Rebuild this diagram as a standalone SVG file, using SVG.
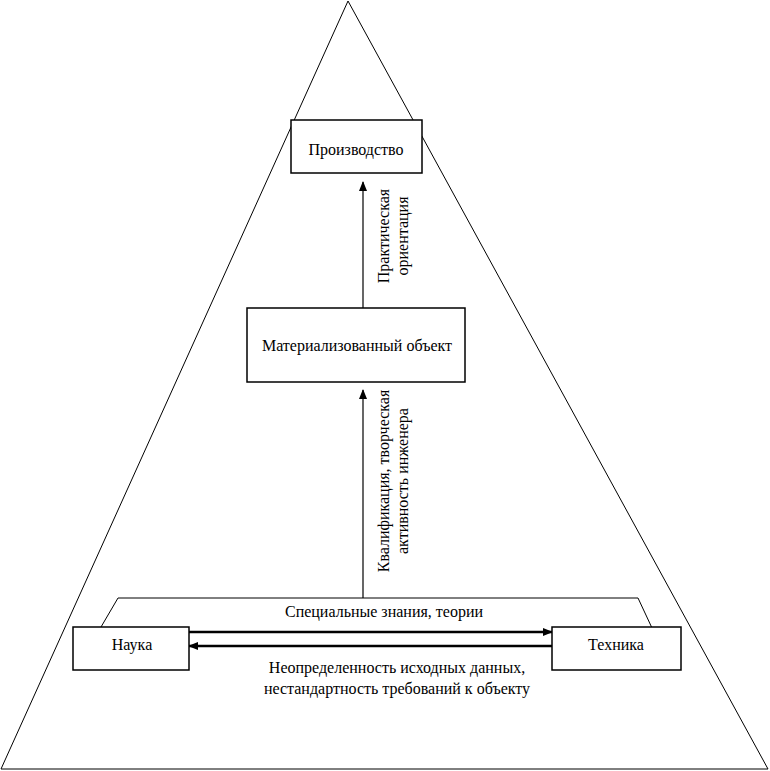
<svg xmlns="http://www.w3.org/2000/svg" width="770" height="771" viewBox="0 0 770 771">
<style>
.box{fill:#fff;stroke:#000;stroke-width:1.5}
.t{font-family:"Liberation Serif","Times New Roman",serif;font-size:16px;fill:#000}
.ln{fill:none;stroke:#000;stroke-width:1}
.ar{fill:none;stroke:#000;stroke-width:2.5}
</style>
<defs>
<marker id="ah" markerWidth="10" markerHeight="8" refX="9" refY="4" orient="auto" markerUnits="userSpaceOnUse">
<path d="M0,0 L10,4 L0,8 Z" fill="#000"/>
</marker>
</defs>
<rect width="770" height="771" fill="#fff"/>
<g id="triangle"><path class="ln" d="M348,1 L1,769 L768,769 Z"/></g>
<g id="connectors">
<line x1="363" y1="308" x2="363" y2="182" stroke="#000" stroke-width="1.2" marker-end="url(#ah)"/>
<line x1="363" y1="598" x2="363" y2="390" stroke="#000" stroke-width="1.2" marker-end="url(#ah)"/>
<path class="ln" d="M101,627 L118,598 L638,598 L652,628"/>
<line x1="189" y1="632" x2="552" y2="632" class="ar" marker-end="url(#ah)"/>
<line x1="552" y1="646" x2="189" y2="646" class="ar" marker-end="url(#ah)"/>
</g>
<g id="node-proizvodstvo">
<rect class="box" x="291" y="120" width="131" height="53"/>
<text class="t" x="356" y="155" text-anchor="middle">Производство</text>
</g>
<g id="node-material">
<rect class="box" x="247" y="308" width="218" height="74"/>
<text class="t" x="357" y="351" text-anchor="middle">Материализованный объект</text>
</g>
<g id="node-nauka">
<rect class="box" x="73" y="627" width="116" height="43"/>
<text class="t" x="132" y="650" text-anchor="middle">Наука</text>
</g>
<g id="node-tehnika">
<rect class="box" x="552" y="627" width="129" height="43"/>
<text class="t" x="616" y="650" text-anchor="middle">Техника</text>
</g>
<g id="labels">
<text class="t" x="384" y="617" text-anchor="middle">Специальные знания, теории</text>
<text class="t" x="397" y="673" text-anchor="middle">Неопределенность исходных данных,</text>
<text class="t" x="397" y="694" text-anchor="middle">нестандартность требований к объекту</text>
<g transform="translate(389,236) rotate(-90)">
<text class="t" x="0" y="0" text-anchor="middle">Практическая</text>
<text class="t" x="0" y="19" text-anchor="middle">ориентация</text>
</g>
<g transform="translate(389,481) rotate(-90)">
<text class="t" x="0" y="0" text-anchor="middle">Квалификация, творческая</text>
<text class="t" x="0" y="19" text-anchor="middle">активность инженера</text>
</g>
</g>
</svg>
